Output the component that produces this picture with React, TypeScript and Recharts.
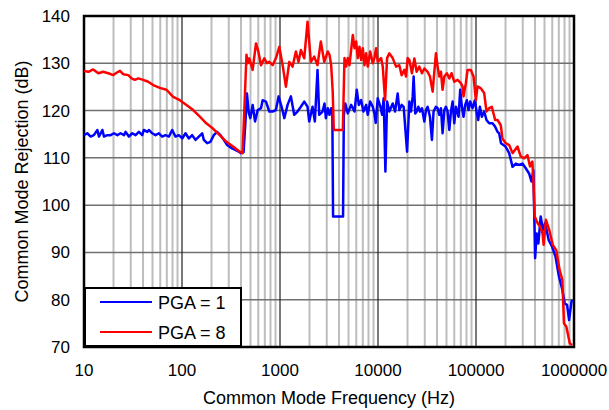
import React from 'react';
import { LineChart, Line, XAxis, YAxis, CartesianGrid, ReferenceArea, Legend } from 'recharts';

// ---------- data (frequency in Hz, CMR in dB) ----------
const blueFreq = [
  10, 10.8, 11.7, 12.6, 13.7, 14.2, 15.4, 16.0, 17.3, 18.7, 20.2, 21.9, 23.6, 25.6, 26.6, 28.7, 31.1, 33.6, 36.3, 39.3,
  40.8, 44.2, 45.9, 49.7, 53.7, 58.1, 62.8, 67.9, 73.5, 79.4, 85.9, 92.9, 100.5, 108.6, 117.5, 127, 137.4, 148.6, 160.7, 167,
  180.6, 195.3, 211, 228, 247, 267, 289, 324, 350, 379, 400, 425, 445, 460, 480, 498, 526, 556, 592, 640,
  665, 719, 778, 841, 908, 968, 1047, 1107, 1195, 1292, 1396, 1509, 1633, 1767, 1910, 1986, 2148, 2268, 2415, 2512,
  2716, 2845, 2937, 3076, 3199, 3327, 3420, 3480, 4400, 4480, 4640, 4918, 5320, 5757, 6070, 6370, 6730, 7100, 7568, 7860,
  8313, 8836, 9190, 9480, 9932, 10590, 11000, 11430, 11900, 12380, 13060, 14120, 14930, 15880, 16510, 17430, 18280, 19800, 20900, 21700,
  22600, 23100, 24000, 24800, 25800, 26800, 28100, 29700, 30900, 32100, 33900, 35500, 36900, 39000, 40600, 42200, 43900, 45600, 47500, 49300,
  51300, 53400, 55500, 57700, 60000, 62400, 66400, 69000, 71800, 74600, 77600, 80700, 83900, 87300, 92200, 97400, 101300, 105300, 109500, 114700,
  121200, 128000, 136200, 147300, 156800, 165700, 172300, 180000, 200000, 218000, 236000, 255000, 275000, 298000, 322000, 348000, 368000, 385000, 401000, 416000,
  433000, 457000, 483000, 508000, 552000, 598000, 648000, 702000, 760000, 804000, 850000, 891000, 943000, 965000,
];
const blueCmr = [
  114.8, 115.2, 114.5, 114.8, 115.9, 114.5, 115.9, 114.5, 114.8, 114.8, 115.2, 114.8, 115.2, 114.8, 115.5, 114.5, 115.2, 114.8, 115.5, 114.8,
  115.9, 115.5, 115.9, 115.2, 114.8, 115.2, 114.5, 114.8, 114.5, 115.9, 114.5, 114.8, 114.1, 115.2, 114.1, 114.8, 113.8, 114.5, 115.2, 113.8,
  113.1, 113.4, 114.8, 115.5, 114.8, 113.8, 112.7, 112.0, 111.7, 111.3, 111.0, 111.2, 118.0, 123.6, 119.5, 118.4, 121.2, 117.7, 120.1, 120.5,
  122.2, 121.9, 119.8, 119.8, 120.1, 123.0, 120.5, 118.4, 121.2, 123.0, 119.1, 119.8, 120.8, 121.9, 120.8, 117.7, 120.8, 117.7, 128.6, 119.1,
  119.8, 121.5, 118.4, 120.5, 119.1, 120.5, 119.5, 97.6, 97.6, 119.0, 121.5, 119.4, 121.2, 119.8, 124.4, 121.2, 122.2, 119.8, 121.2, 119.1,
  121.9, 120.8, 119.4, 117.4, 122.6, 120.8, 119.1, 122.6, 107.1, 121.9, 119.8, 121.5, 119.8, 123.6, 120.1, 121.2, 120.8, 111.3, 121.9, 119.8,
  123.0, 127.2, 119.4, 119.8, 120.8, 119.8, 120.5, 117.7, 120.1, 120.8, 118.7, 113.8, 119.8, 120.8, 120.5, 119.1, 120.5, 115.2, 120.1, 120.8,
  119.8, 115.9, 119.8, 121.9, 117.3, 120.8, 118.7, 124.4, 120.8, 118.7, 121.2, 122.2, 120.1, 121.9, 120.5, 122.2, 119.8, 118.0, 120.8, 118.7,
  119.8, 118.0, 117.3, 117.3, 116.6, 115.5, 115.2, 113.1, 112.4, 111.0, 108.1, 108.8, 108.5, 108.8, 107.8, 106.7, 105.0, 107.4, 88.8, 94.0,
  91.9, 97.6, 94.7, 96.2, 92.6, 91.2, 89.1, 84.9, 82.1, 79.2, 78.9, 75.7, 79.6, 80.0,
];

const redFreq = [
  10, 11.1, 12.4, 14.0, 15.7, 17.7, 19.9, 21.5, 23.3, 25.1, 28.3, 30.6, 33.0, 35.7, 40.2, 45.2, 50.8, 59.4, 69.5, 81.3,
  95.0, 111, 130, 152, 177, 207, 243, 284, 332, 388, 415, 440, 455, 468, 486, 526, 569, 601, 640, 692,
  736, 778, 841, 908, 984, 1064, 1149, 1245, 1344, 1453, 1546, 1633, 1767, 1910, 2065, 2234, 2415, 2610, 2826, 3076,
  3199, 3327, 3450, 3540, 4375, 4550, 4732, 4918, 5117, 5536, 5757, 5987, 6220, 6471, 6730, 6994, 7278, 7568, 7860, 8313,
  8836, 9190, 9562, 9932, 10755, 11180, 11810, 12380, 13060, 14120, 15280, 16510, 17430, 18570, 19310, 20080, 20900, 22200, 23500, 24800,
  26400, 28100, 29700, 32100, 33900, 36100, 39000, 40600, 42200, 43900, 45600, 47500, 50500, 53400, 56300, 60000, 64900, 70100, 72900, 74600,
  78800, 82000, 88600, 94400, 99700, 103700, 112100, 121200, 128000, 136200, 145000, 156800, 166000, 179000, 186000, 201000, 218000, 236000, 265000, 286000,
  310000, 335000, 356000, 376000, 385000, 397000, 425000, 452000, 478000, 490000, 517000, 560000, 607000, 658000, 713000, 760000, 790000, 836000, 905000, 957000,
];
const redCmr = [
  128.4, 128.2, 128.7, 127.9, 128.2, 127.9, 127.5, 128.0, 128.4, 127.7, 127.5, 126.8, 126.5, 126.8, 126.5, 126.1, 125.4, 124.8, 124.4, 122.9,
  122.2, 121.2, 120.1, 118.7, 117.3, 116.2, 114.8, 113.4, 112.4, 111.3, 111.0, 124.0, 131.8, 130.0, 131.05, 128.6, 134.2, 132.5, 129.6, 131.05,
  130.0, 130.3, 129.6, 131.05, 133.5, 129.6, 125.05, 130.3, 129.3, 132.5, 130.3, 132.8, 131.05, 138.8, 130.3, 131.4, 129.6, 134.6, 130.3, 132.5,
  131.8, 129.6, 124.0, 115.9, 115.9, 131.1, 129.3, 131.1, 129.6, 136.0, 133.2, 134.6, 131.1, 133.5, 130.7, 133.2, 129.6, 132.1, 129.3, 132.5,
  130.0, 131.1, 133.2, 130.3, 131.1, 129.3, 122.2, 131.1, 132.1, 131.1, 129.3, 129.6, 127.5, 128.6, 127.2, 131.1, 130.7, 127.9, 131.0, 128.2,
  129.3, 127.9, 128.9, 128.2, 127.2, 124.0, 132.1, 129.3, 127.2, 128.2, 124.4, 127.2, 127.9, 126.8, 127.9, 126.1, 126.5, 125.8, 125.1, 123.0,
  125.8, 128.6, 128.6, 127.2, 122.2, 125.1, 124.7, 123.7, 119.8, 120.5, 120.8, 118.0, 118.0, 116.9, 114.1, 113.1, 112.7, 111.0, 112.4, 110.3,
  109.9, 110.6, 108.2, 109.2, 105.3, 97.6, 96.2, 95.5, 94.0, 91.6, 96.9, 94.7, 91.6, 90.5, 86.3, 84.2, 75.0, 74.3, 70.8, 70.4,
];

const seriesNames = ['PGA = 1', 'PGA = 8'];
const seriesColors = ['#0000ff', '#ff0000'];
const xTicks = [10, 100, 1000, 10000, 100000, 1000000];
const yTicks = [70, 80, 90, 100, 110, 120, 130, 140];
const hGrid = [80, 90, 100, 110, 120, 130];
const majorX = [100, 1000, 10000, 100000];
const decades = [10, 100, 1000, 10000, 100000];
const minorMultipliers = [2, 3, 4, 5, 6, 7, 8, 9];
const minorX = decades.flatMap((d) => minorMultipliers.map((k) => k * d));

const xTitle = 'Common Mode Frequency (Hz)';
const yTitle = 'Common Mode Rejection (dB)';

const blueData = blueFreq.map((f, i) => ({ f, v: blueCmr[i] }));
const redData = redFreq.map((f, i) => ({ f, v: redCmr[i] }));

const FONT = '"Liberation Sans", Arial, Helvetica, sans-serif';

function XTick(props: any) {
  const { x, y, payload } = props;
  return (
    <text x={x} y={y} dy={29} textAnchor="middle" fontSize={17} fontFamily={FONT} fill="#000">
      {String(payload.value)}
    </text>
  );
}

function YTick(props: any) {
  const { x, y, payload } = props;
  return (
    <text x={x} y={y} dy={6} textAnchor="end" fontSize={17} fontFamily={FONT} fill="#000">
      {String(payload.value)}
    </text>
  );
}

function XTitle(props: any) {
  const vb = props.viewBox || {};
  return (
    <text x={vb.x + vb.width / 2} y={vb.y + 57} textAnchor="middle" fontSize={18} fontFamily={FONT} fill="#000">
      {xTitle}
    </text>
  );
}

function YTitle(props: any) {
  const vb = props.viewBox || {};
  const cx = vb.x + 28;
  const cy = vb.y + vb.height / 2;
  return (
    <text transform={`translate(${cx},${cy}) rotate(-90)`} textAnchor="middle" fontSize={18} fontFamily={FONT} fill="#000">
      {yTitle}
    </text>
  );
}

function LegendBox() {
  return (
    <svg width={158} height={60} style={{ display: 'block' }}>
      <rect x={1} y={1} width={156} height={58} fill="#fff" stroke="#000" strokeWidth={2} />
      {seriesNames.map((name, i) => (
        <g key={name}>
          <line x1={16} x2={68} y1={15 + i * 30} y2={15 + i * 30} stroke={seriesColors[i]} strokeWidth={2} />
          <text x={74} y={21.5 + i * 30} fontSize={18} fontFamily={FONT} fill="#000">
            {name}
          </text>
        </g>
      ))}
    </svg>
  );
}

export default function App() {
  return (
    <div style={{ position: 'absolute', left: 0, top: 0, width: 609, height: 410, background: '#fff' }}>
      <LineChart width={609} height={410} margin={{ top: 16, right: 35, bottom: 0, left: 0 }}>
        <CartesianGrid horizontal={false} verticalValues={minorX} stroke="#bdbdbd" strokeWidth={2} />
        <CartesianGrid vertical={false} horizontalValues={hGrid} stroke="#707070" strokeWidth={1.5} />
        <CartesianGrid horizontal={false} verticalValues={majorX} stroke="#202020" strokeWidth={1.2} />
        <XAxis
          dataKey="f"
          type="number"
          scale="log"
          domain={[10, 1000000]}
          ticks={xTicks}
          interval={0}
          allowDataOverflow
          tickLine={false}
          axisLine={false}
          tickSize={0}
          tickMargin={0}
          height={63}
          tick={<XTick />}
          label={{ content: <XTitle /> }}
        />
        <YAxis
          type="number"
          domain={[70, 140]}
          ticks={yTicks}
          interval={0}
          allowDataOverflow
          tickLine={false}
          axisLine={false}
          tickSize={0}
          tickMargin={14}
          width={84}
          tick={<YTick />}
          label={{ content: <YTitle /> }}
        />
        <Line
          data={blueData}
          dataKey="v"
          name={seriesNames[0]}
          type="linear"
          stroke={seriesColors[0]}
          strokeWidth={2.5}
          strokeLinejoin="round"
          dot={false}
          activeDot={false}
          isAnimationActive={false}
        />
        <Line
          data={redData}
          dataKey="v"
          name={seriesNames[1]}
          type="linear"
          stroke={seriesColors[1]}
          strokeWidth={2.5}
          strokeLinejoin="round"
          dot={false}
          activeDot={false}
          isAnimationActive={false}
        />
        <ReferenceArea x1={10} x2={1000000} y1={70} y2={140} fill="none" stroke="#000" strokeWidth={2.5} ifOverflow="visible" />
        <Legend
          layout="vertical"
          align="center"
          verticalAlign="middle"
          wrapperStyle={{ left: 84, top: 287, width: 158, height: 60 }}
          content={() => <LegendBox />}
        />
      </LineChart>
    </div>
  );
}
